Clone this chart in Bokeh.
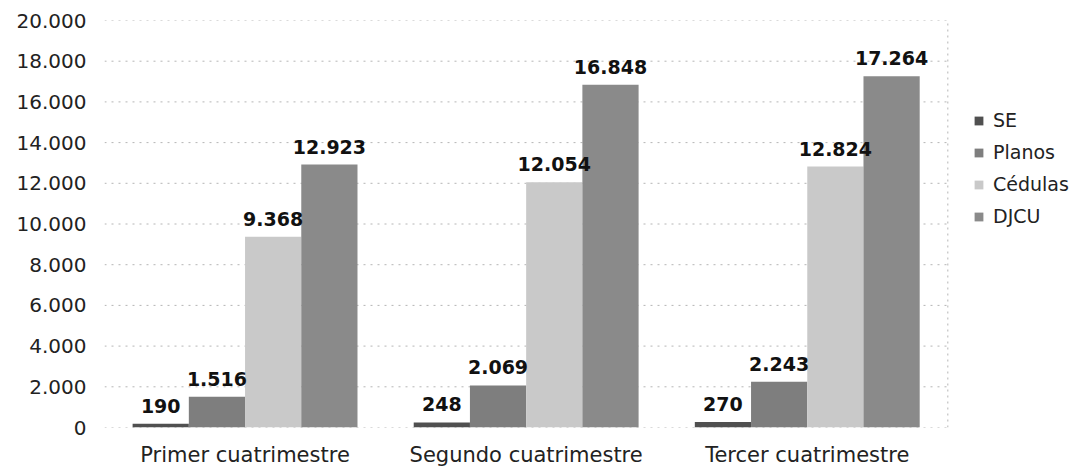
from bokeh.plotting import figure
from bokeh.models import (ColumnDataSource, Range1d, FixedTicker, LabelSet,
                          Legend, LegendItem)
from bokeh.core.properties import value
from bokeh.embed import file_html
from bokeh.resources import INLINE

categories = ["Primer cuatrimestre", "Segundo cuatrimestre", "Tercer cuatrimestre"]
series_names = ["SE", "Planos", "Cédulas", "DJCU"]
se = [190, 248, 270]
planos = [1516, 2069, 2243]
cedulas = [9368, 12054, 12824]
djcu = [12923, 16848, 17264]
y_ticks = [0, 2000, 4000, 6000, 8000, 10000, 12000, 14000, 16000, 18000, 20000]

colors = ["#505050", "#7e7e7e", "#c9c9c9", "#8a8a8a"]
offsets = [-0.3, -0.1, 0.1, 0.3]
n = len(categories)
centers = [i + 0.5 for i in range(n)]


def fmt(v):
    return f"{v:,}".replace(",", ".")


p = figure(x_range=Range1d(0, 3.44), y_range=Range1d(0, 20000),
           width=1071, height=470, output_backend="svg", toolbar_location=None,
           min_border_left=104, min_border_right=0, min_border_top=20, min_border_bottom=43)

# dotted horizontal grid lines and right border, limited to the category area
p.segment(x0=[0] * len(y_ticks), x1=[n] * len(y_ticks), y0=y_ticks, y1=y_ticks,
          line_color="#b5b5b5", line_dash="2 5", line_width=1)
p.segment(x0=[n], x1=[n], y0=[y_ticks[0]], y1=[y_ticks[-1]],
          line_color="#b5b5b5", line_dash="2 4", line_width=1)

items = []
for name, vals, col, off in zip(series_names, [se, planos, cedulas, djcu], colors, offsets):
    xs = [c + off for c in centers]
    src = ColumnDataSource(dict(x=xs, val=vals, lab=[fmt(v) for v in vals]))
    r = p.vbar(x="x", top="val", width=0.2, source=src, fill_color=col, line_color=None)
    items.append(LegendItem(label=name, renderers=[r]))
    ls = LabelSet(x="x", y="val", text="lab", source=src,
                  text_align="center", text_baseline="alphabetic", y_offset=11,
                  text_font=value("DejaVu Sans"), text_font_style="bold",
                  text_font_size=value("19px"), text_color="#111111")
    p.add_layout(ls)

legend = Legend(items=items, location=(869, 200), orientation="vertical",
                glyph_width=11, glyph_height=11, label_standoff=9, spacing=10,
                label_text_font="DejaVu Sans", label_text_font_size="19px",
                label_text_color="#222222", padding=0, margin=0,
                border_line_color=None, background_fill_alpha=0)
p.add_layout(legend)

p.yaxis.ticker = FixedTicker(ticks=y_ticks)
p.yaxis.major_label_overrides = {t: fmt(t) for t in y_ticks}
p.yaxis.major_label_text_font = "DejaVu Sans"
p.yaxis.major_label_text_font_size = "20px"
p.yaxis.major_label_text_color = "#222222"
p.yaxis.axis_line_color = None
p.yaxis.major_tick_line_color = None
p.yaxis.minor_tick_line_color = None
p.yaxis.major_label_standoff = 12

p.xaxis.ticker = FixedTicker(ticks=centers)
p.xaxis.major_label_overrides = {c: cat for c, cat in zip(centers, categories)}
p.xaxis.major_label_text_font = "DejaVu Sans"
p.xaxis.major_label_text_font_size = "21px"
p.xaxis.major_label_text_color = "#222222"
p.xaxis.axis_line_color = None
p.xaxis.major_tick_line_color = None
p.xaxis.minor_tick_line_color = None
p.xaxis.major_label_standoff = 9

p.grid.grid_line_color = None
p.outline_line_color = None

open("out.html", "w").write(file_html(p, INLINE))
